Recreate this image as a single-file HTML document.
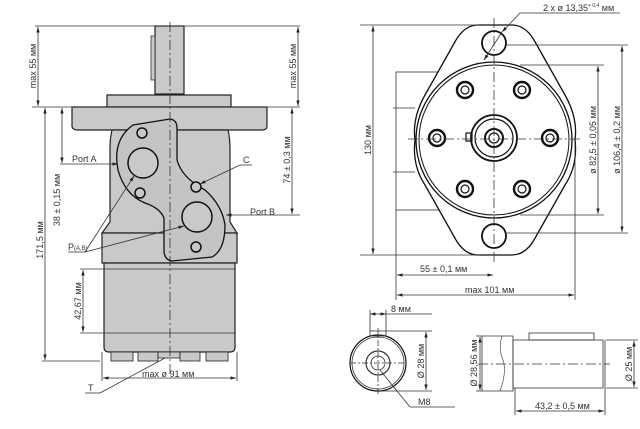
<!DOCTYPE html>
<html><head><meta charset="utf-8"><style>
html,body{margin:0;padding:0;background:#fff;}
svg{display:block;font-family:"Liberation Sans",sans-serif;}
text{fill:#333;font-size:9px;}
</style></head><body>
<svg width="640" height="429" viewBox="0 0 640 429" xmlns="http://www.w3.org/2000/svg">
<defs>
<marker id="a" viewBox="0 0 10 10" refX="10" refY="5" markerWidth="7" markerHeight="7" orient="auto-start-reverse"><path d="M0,2 L10,5 L0,8 z" fill="#222"/></marker>
</defs>
<g stroke="#333" stroke-width="0.8" fill="none">
<!-- LEFT VIEW -->
<!-- shaft -->
<rect x="155" y="26" width="29" height="68" fill="#c9c9cb" stroke="#222" stroke-width="1.2"/>
<rect x="151" y="36" width="4" height="44" fill="#c9c9cb"/>
<rect x="107" y="95" width="124" height="12" fill="#c9c9cb" stroke="#222" stroke-width="1.2"/>
<path d="M72,107 H267 V126 Q267,130 262,130 H78 Q72,130 72,126 Z" fill="#c9c9cb" stroke="#222" stroke-width="1.2"/>
<path d="M112,130 Q110,138 110,150 V222 L102,233 H237 L230,222 V150 Q230,138 228,130 Z" fill="#c9c9cb" stroke="#222" stroke-width="1.2"/>
<rect x="102" y="233" width="135" height="30" fill="#c9c9cb" stroke="#222" stroke-width="1.2"/>
<path d="M104,263 H235 V347 Q235,352 230,352 H109 Q104,352 104,347 Z" fill="#c9c9cb" stroke="#222" stroke-width="1.2"/>
<line x1="104" y1="269" x2="235" y2="269"/><line x1="104" y1="333" x2="235" y2="333"/>
<g fill="#c9c9cb" stroke="#222">
<rect x="111" y="352" width="22" height="9"/><rect x="138" y="352" width="20" height="9"/>
<rect x="158" y="352" width="22" height="6"/><rect x="180" y="352" width="20" height="9"/><rect x="206" y="352" width="22" height="9"/>
</g>
<path d="M133,125 L170,119 Q177,120 177,128 V160 Q182,178 205,190 Q222,205 225,225 Q225,250 212,257 L172,261 Q165,260 164,252 V218 Q160,208 145,203 Q125,195 118,170 Q112,140 133,125 Z" fill="#c4c4c6" stroke="#111" stroke-width="1.3"/>
<g stroke="#111" stroke-width="1.5" fill="#c9c9cb">
<circle cx="143" cy="163" r="15"/><circle cx="197" cy="217" r="15"/>
<circle cx="142" cy="133" r="5"/><circle cx="140" cy="193" r="5"/><circle cx="196" cy="187" r="5"/><circle cx="196" cy="247" r="5"/>
</g>
<line x1="170" y1="22" x2="170" y2="375" stroke-dasharray="10,3,2,3"/>
<!-- dims left -->
<line x1="35" y1="26" x2="300" y2="26"/><line x1="32" y1="107" x2="300" y2="107"/>
<line x1="38" y1="27" x2="38" y2="106" marker-start="url(#a)" marker-end="url(#a)"/>
<line x1="298" y1="27" x2="298" y2="106" marker-start="url(#a)" marker-end="url(#a)"/>
<line x1="45" y1="108" x2="45" y2="360" marker-start="url(#a)" marker-end="url(#a)"/>
<line x1="42" y1="361" x2="100" y2="361"/>
<line x1="62" y1="108" x2="62" y2="163" marker-start="url(#a)" marker-end="url(#a)"/>
<line x1="60" y1="164" x2="118" y2="164" marker-end="url(#a)"/>
<line x1="292" y1="108" x2="292" y2="214" marker-start="url(#a)" marker-end="url(#a)"/>
<line x1="300" y1="215" x2="226" y2="215" marker-end="url(#a)"/>
<line x1="83" y1="270" x2="83" y2="332" marker-start="url(#a)" marker-end="url(#a)"/>
<line x1="80" y1="269" x2="104" y2="269"/><line x1="80" y1="333" x2="104" y2="333"/>
<line x1="103" y1="378" x2="236" y2="378" marker-start="url(#a)" marker-end="url(#a)"/>
<line x1="102" y1="352" x2="102" y2="381"/><line x1="237" y1="352" x2="237" y2="381"/>
<line x1="252" y1="165" x2="240" y2="165"/><line x1="240" y1="165" x2="200" y2="184" marker-end="url(#a)"/>
<line x1="68" y1="252" x2="85" y2="252"/><line x1="85" y1="252" x2="134" y2="176" marker-end="url(#a)"/><line x1="85" y1="252" x2="184" y2="226" marker-end="url(#a)"/>
<line x1="85" y1="393" x2="100" y2="393"/><line x1="100" y1="393" x2="165" y2="358"/>
<!-- RIGHT VIEW -->
<rect x="396" y="72" width="46" height="138" fill="#fff"/>
<line x1="393" y1="108" x2="415" y2="108"/><line x1="393" y1="172" x2="415" y2="172"/>
<path d="M478,25 H512 Q525,25 534,40 L565,95 Q578,118 575,140 Q578,165 565,185 L534,240 Q525,255 512,255 H478 Q465,255 456,240 L425,185 Q412,165 415,140 Q412,118 425,95 L456,40 Q465,25 478,25 Z" fill="#fff" stroke="#111" stroke-width="1.3"/>
<circle cx="494" cy="140" r="78" fill="#fff" stroke="#111" stroke-width="1.3"/>
<circle cx="494" cy="140" r="75" stroke="#111" stroke-width="1"/>
<g stroke="#111" stroke-width="1.8">
<circle cx="494" cy="43" r="12"/><circle cx="494" cy="236" r="12"/>
</g>
<g stroke="#111" stroke-width="1.2">
<circle cx="465" cy="90" r="8" stroke-width="2.4"/><circle cx="465" cy="90" r="4"/>
<circle cx="522" cy="90" r="8" stroke-width="2.4"/><circle cx="522" cy="90" r="4"/>
<circle cx="437" cy="138" r="8" stroke-width="2.4"/><circle cx="437" cy="138" r="4"/>
<circle cx="550" cy="138" r="8" stroke-width="2.4"/><circle cx="550" cy="138" r="4"/>
<circle cx="465" cy="189" r="8" stroke-width="2.4"/><circle cx="465" cy="189" r="4"/>
<circle cx="522" cy="189" r="8" stroke-width="2.4"/><circle cx="522" cy="189" r="4"/>
<circle cx="494" cy="138" r="23" stroke-width="1.8"/><circle cx="494" cy="138" r="19"/>
<circle cx="494" cy="138" r="9" stroke-width="2"/><circle cx="494" cy="138" r="5"/>
<rect x="466" y="133" width="6" height="8"/>
</g>
<line x1="494" y1="18" x2="494" y2="262" stroke-dasharray="10,3,2,3"/>
<line x1="408" y1="139" x2="582" y2="139" stroke-dasharray="10,3,2,3"/>
<line x1="360" y1="25" x2="480" y2="25"/><line x1="360" y1="255" x2="480" y2="255"/>
<line x1="373" y1="26" x2="373" y2="254" marker-start="url(#a)" marker-end="url(#a)"/>
<line x1="505" y1="45" x2="628" y2="45"/><line x1="505" y1="233" x2="628" y2="233"/>
<line x1="520" y1="65" x2="604" y2="65"/><line x1="520" y1="215" x2="604" y2="215"/>
<line x1="598" y1="66" x2="598" y2="214" marker-start="url(#a)" marker-end="url(#a)"/>
<line x1="622" y1="46" x2="622" y2="232" marker-start="url(#a)" marker-end="url(#a)"/>
<line x1="396" y1="210" x2="396" y2="300"/><line x1="575" y1="145" x2="575" y2="300"/>
<line x1="397" y1="275" x2="493" y2="275" marker-start="url(#a)" marker-end="url(#a)"/>
<line x1="397" y1="295" x2="574" y2="295" marker-start="url(#a)" marker-end="url(#a)"/>
<line x1="620" y1="13" x2="520" y2="13"/><line x1="520" y1="13" x2="502" y2="32" marker-end="url(#a)"/><line x1="502" y1="32" x2="484" y2="60" marker-end="url(#a)"/>
<!-- SHAFT END VIEW -->
<circle cx="378" cy="363" r="28" stroke="#111" stroke-width="1.2"/><circle cx="378" cy="363" r="26"/>
<circle cx="378" cy="363" r="12" stroke-width="1.2"/><circle cx="378" cy="363" r="7"/>
<rect x="370" y="331" width="16" height="5"/>
<line x1="370" y1="310" x2="370" y2="331"/><line x1="386" y1="310" x2="386" y2="331"/>
<line x1="370" y1="314" x2="386" y2="314" marker-start="url(#a)" marker-end="url(#a)"/><line x1="386" y1="314" x2="432" y2="314"/>
<line x1="350" y1="363" x2="406" y2="363" stroke-dasharray="6,2,2,2"/><line x1="378" y1="328" x2="378" y2="395" stroke-dasharray="6,2,2,2"/>
<line x1="386" y1="331" x2="432" y2="331"/><line x1="378" y1="391" x2="432" y2="391"/>
<line x1="426" y1="332" x2="426" y2="390" marker-start="url(#a)" marker-end="url(#a)"/>
<line x1="380" y1="370" x2="410" y2="407"/><line x1="410" y1="407" x2="455" y2="407"/>
<!-- SHAFT SIDE VIEW -->
<path d="M482,336 H513 V391 H482 Z"/>
<path d="M502,336 Q498,348 503,360 Q507,372 500,391" stroke-width="0.6"/>
<rect x="513" y="340" width="90" height="48"/>
<line x1="605" y1="340" x2="605" y2="388"/>
<rect x="529" y="333" width="65" height="7"/>
<line x1="478" y1="364" x2="610" y2="364" stroke-dasharray="10,3,2,3"/>
<line x1="476" y1="336" x2="482" y2="336"/><line x1="476" y1="391" x2="482" y2="391"/>
<line x1="480" y1="337" x2="480" y2="390" marker-start="url(#a)" marker-end="url(#a)"/>
<line x1="606" y1="340" x2="638" y2="340"/><line x1="606" y1="388" x2="638" y2="388"/>
<line x1="634" y1="341" x2="634" y2="387" marker-start="url(#a)" marker-end="url(#a)"/>
<line x1="515" y1="388" x2="515" y2="415"/><line x1="605" y1="388" x2="605" y2="415"/>
<line x1="516" y1="411" x2="604" y2="411" marker-start="url(#a)" marker-end="url(#a)"/>
</g>
<!-- TEXT -->
<text transform="translate(36,66) rotate(-90)" text-anchor="middle">max 55 мм</text>
<text transform="translate(296,66) rotate(-90)" text-anchor="middle">max 55 мм</text>
<text transform="translate(43,240) rotate(-90)" text-anchor="middle">171,5 мм</text>
<text transform="translate(60,200) rotate(-90)" text-anchor="middle">38 ± 0,15 мм</text>
<text transform="translate(290,160) rotate(-90)" text-anchor="middle">74 ± 0,3 мм</text>
<text transform="translate(81,301) rotate(-90)" text-anchor="middle">42,67 мм</text>
<text x="72" y="162">Port A</text>
<text x="250" y="215">Port B</text>
<text x="243" y="163">C</text>
<text x="68" y="250">P<tspan font-size="6">(A,B)</tspan></text>
<text x="142" y="377">max ø 91 мм</text>
<text x="88" y="391">T</text>
<text transform="translate(371,140) rotate(-90)" text-anchor="middle">130 мм</text>
<text transform="translate(596,140) rotate(-90)" text-anchor="middle">ø 82,5 ± 0,05 мм</text>
<text transform="translate(620,140) rotate(-90)" text-anchor="middle">ø 106,4 ± 0,2 мм</text>
<text x="420" y="272">55 ± 0,1 мм</text>
<text x="465" y="293">max 101 мм</text>
<text x="543" y="11">2 x ø 13,35<tspan font-size="5" dy="-4">+ 0,4</tspan><tspan dy="4"> мм</tspan></text>
<text x="391" y="312" font-size="8">8 мм</text>
<text transform="translate(424,361) rotate(-90)" text-anchor="middle" font-size="8">Ø 28 мм</text>
<text x="418" y="405">M8</text>
<text transform="translate(477,363) rotate(-90)" text-anchor="middle" font-size="8">Ø 28,56 мм</text>
<text transform="translate(632,364) rotate(-90)" text-anchor="middle" font-size="8">Ø 25 мм</text>
<text x="535" y="409" font-size="8">43,2 ± 0,5 мм</text>
</svg>
</body></html>
